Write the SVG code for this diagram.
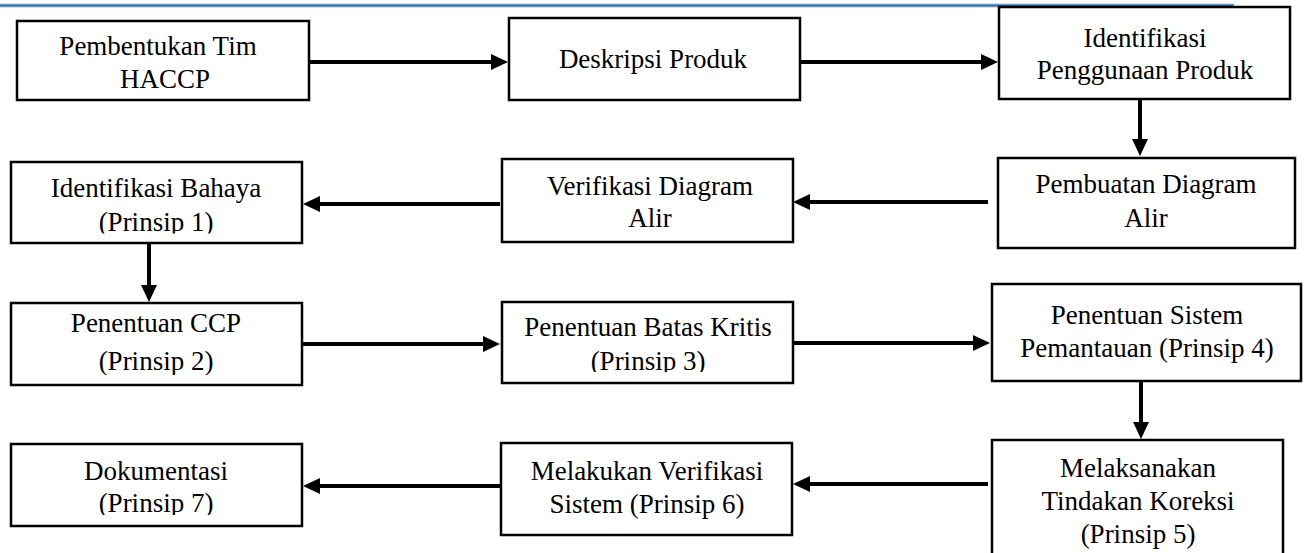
<svg xmlns="http://www.w3.org/2000/svg" width="1305" height="553" viewBox="0 0 1305 553">
  <style>
    .box { fill: #ffffff; stroke: #000000; stroke-width: 2.5; }
    .lbl { font-family: "Liberation Serif", "Times New Roman", serif; font-size: 27px; fill: #000000; text-anchor: middle; }
    .conn { stroke: #000000; stroke-width: 4; fill: none; marker-end: url(#head); }
  </style>
  <defs>
    <marker id="head" markerUnits="userSpaceOnUse" markerWidth="18" markerHeight="17" refX="4" refY="8" orient="auto">
      <path d="M0,0 L17,8 L0,16 Z" fill="#000000"/>
    </marker>
    <!-- text frames that cut off the last line of some labels -->
    <clipPath id="clip6"><rect x="11" y="162" width="291" height="71.5"/></clipPath>
    <clipPath id="clip7"><rect x="11" y="303" width="291" height="72"/></clipPath>
    <clipPath id="clip8"><rect x="502" y="302" width="291" height="70"/></clipPath>
    <clipPath id="clip12"><rect x="11" y="444" width="291" height="71"/></clipPath>
  </defs>

  <rect width="1305" height="553" fill="#ffffff"/>

  <!-- page header rule -->
  <g id="header-rule">
    <rect x="0" y="3.5" width="1234" height="4" fill="#a9c6e2"/>
    <rect x="0" y="4.5" width="1234" height="2" fill="#2f6ea8"/>
  </g>

  <!-- connectors -->
  <g id="connectors">
    <line class="conn" x1="309" y1="62" x2="495" y2="62"/>
    <line class="conn" x1="800" y1="62" x2="985" y2="62"/>
    <line class="conn" x1="1140" y1="99" x2="1140" y2="143"/>
    <line class="conn" x1="988" y1="202" x2="806" y2="202"/>
    <line class="conn" x1="500" y1="204" x2="316" y2="204"/>
    <line class="conn" x1="149" y1="243" x2="149" y2="289"/>
    <line class="conn" x1="302" y1="344" x2="487" y2="344"/>
    <line class="conn" x1="793" y1="343" x2="977" y2="343"/>
    <line class="conn" x1="1141" y1="381" x2="1141" y2="426"/>
    <line class="conn" x1="988" y1="484" x2="806" y2="484"/>
    <line class="conn" x1="501" y1="486" x2="316" y2="486"/>
  </g>

  <g id="n1">
    <rect class="box" x="17" y="21" width="292" height="79"/>
    <text class="lbl" x="158" y="55">Pembentukan Tim</text>
    <text class="lbl" x="165" y="88">HACCP</text>
  </g>
  <g id="n2">
    <rect class="box" x="509" y="18" width="291" height="82"/>
    <text class="lbl" x="653" y="68">Deskripsi Produk</text>
  </g>
  <g id="n3">
    <rect class="box" x="999" y="7" width="291" height="92"/>
    <text class="lbl" x="1145" y="47">Identifikasi</text>
    <text class="lbl" x="1145" y="79">Penggunaan Produk</text>
  </g>
  <g id="n4">
    <rect class="box" x="998" y="158" width="297" height="90"/>
    <text class="lbl" x="1146" y="193">Pembuatan Diagram</text>
    <text class="lbl" x="1146" y="227">Alir</text>
  </g>
  <g id="n5">
    <rect class="box" x="502" y="159" width="291" height="83"/>
    <text class="lbl" x="650" y="195">Verifikasi Diagram</text>
    <text class="lbl" x="650" y="227">Alir</text>
  </g>
  <g id="n6">
    <rect class="box" x="11" y="162" width="291" height="81"/>
    <g clip-path="url(#clip6)">
      <text class="lbl" x="156" y="197">Identifikasi Bahaya</text>
      <text class="lbl" x="156" y="231">(Prinsip 1)</text>
    </g>
  </g>
  <g id="n7">
    <rect class="box" x="11" y="303" width="291" height="82"/>
    <g clip-path="url(#clip7)">
      <text class="lbl" x="156" y="332">Penentuan CCP</text>
      <text class="lbl" x="156" y="370">(Prinsip 2)</text>
    </g>
  </g>
  <g id="n8">
    <rect class="box" x="502" y="302" width="291" height="81"/>
    <g clip-path="url(#clip8)">
      <text class="lbl" x="648" y="336">Penentuan Batas Kritis</text>
      <text class="lbl" x="648" y="370">(Prinsip 3)</text>
    </g>
  </g>
  <g id="n9">
    <rect class="box" x="992" y="284" width="309" height="97"/>
    <text class="lbl" x="1147" y="324">Penentuan Sistem</text>
    <text class="lbl" x="1147" y="357">Pemantauan (Prinsip 4)</text>
  </g>
  <g id="n10">
    <rect class="box" x="992" y="440" width="291" height="130"/>
    <text class="lbl" x="1138" y="477">Melaksanakan</text>
    <text class="lbl" x="1138" y="510">Tindakan Koreksi</text>
    <text class="lbl" x="1138" y="543">(Prinsip 5)</text>
  </g>
  <g id="n11">
    <rect class="box" x="501" y="443" width="291" height="92"/>
    <text class="lbl" x="647" y="480">Melakukan Verifikasi</text>
    <text class="lbl" x="647" y="513">Sistem (Prinsip 6)</text>
  </g>
  <g id="n12">
    <rect class="box" x="11" y="444" width="291" height="82"/>
    <g clip-path="url(#clip12)">
      <text class="lbl" x="156" y="480">Dokumentasi</text>
      <text class="lbl" x="156" y="512">(Prinsip 7)</text>
    </g>
  </g>
</svg>
